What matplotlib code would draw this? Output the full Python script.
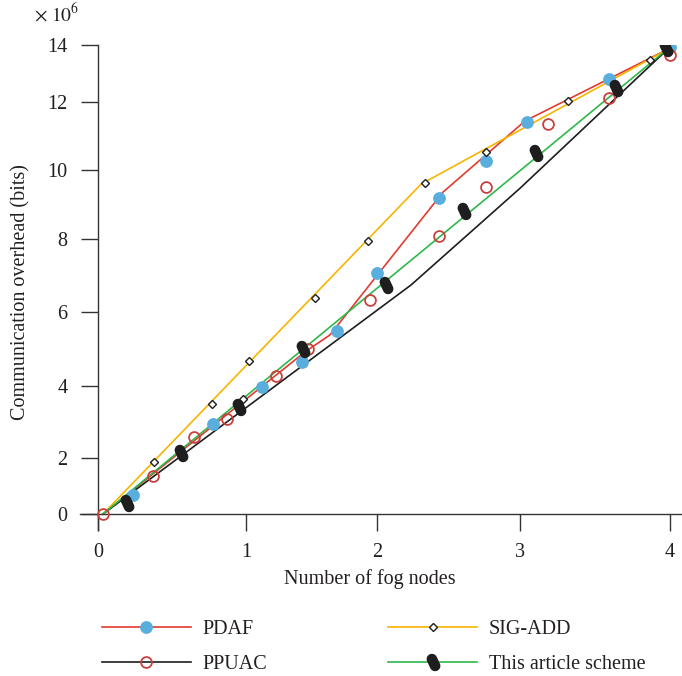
"""Communication overhead vs number of fog nodes, four schemes."""

import numpy as np
import matplotlib
matplotlib.use('Agg')
import matplotlib.pyplot as plt
from matplotlib.path import Path

plt.rcParams['font.family'] = 'Liberation Serif'
plt.rcParams['mathtext.fontset'] = 'stix'

TEXT = '#231f20'

########
# Data #
########
# Overhead in units of 1e6 bits. Lines and markers were placed separately in
# the original figure, so both are kept.
pdaf_line_x = [0.034, 0.993, 1.45, 1.641, 2.462, 3.033, 4.0]
pdaf_line_y = [0.0, 3.61, 4.92, 5.38, 9.36, 11.44, 13.89]
pdaf_x = [0.236, 0.777, 1.122, 1.427, 1.695, 2.0, 2.434, 2.762, 3.047, 3.593, 4.0]
pdaf_y = [0.68, 2.94, 3.97, 4.65, 5.49, 7.07, 9.19, 10.26, 11.41, 12.81, 13.93]

ppuac_line_x = [0.034, 2.238, 3.0, 4.0]
ppuac_line_y = [0.0, 6.74, 9.47, 13.93]
ppuac_x = [0.037, 0.372, 0.649, 0.872, 1.229, 1.473, 1.947, 2.434, 2.762, 3.187, 3.593, 4.0]
ppuac_y = [0.0, 1.36, 2.57, 3.08, 4.27, 4.99, 6.33, 8.09, 9.51, 11.35, 12.14, 13.65]

sig_line_x = [0.034, 2.308, 4.0]
sig_line_y = [0.0, 9.59, 13.89]
sig_x = [0.378, 0.770, 0.980, 1.023, 1.527, 1.931, 2.339, 2.762, 3.32, 3.867]
sig_y = [1.86, 3.50, 3.64, 4.68, 6.38, 7.95, 9.62, 10.53, 12.04, 13.47]

ours_line_x = [0.034, 1.0, 2.0, 3.0, 4.0]
ours_line_y = [0.0, 3.72, 6.65, 9.98, 13.93]
ours_x = [0.196, 0.564, 0.953, 1.435, 2.063, 2.608, 3.107, 3.64, 3.973]
ours_y = [0.39, 2.14, 3.42, 5.0, 6.74, 8.81, 10.5, 12.49, 13.89]

x_ticks = [0, 1, 2, 3, 4]
y_ticks = [0, 2, 4, 6, 8, 10, 12, 14]

#########
# Scale #
#########
# The source figure has unevenly spaced ticks; map them piecewise.
x_pos = [0, 148, 279, 422, 572]
y_pos = [0, 56, 128, 202, 275, 344, 412, 469]


def piecewise(ticks, pos):
    t = np.asarray(ticks, float)
    p = np.asarray(pos, float)
    s0 = (p[1] - p[0]) / (t[1] - t[0])
    s1 = (p[-1] - p[-2]) / (t[-1] - t[-2])
    t = np.r_[t[0] - 100, t, t[-1] + 100]
    p = np.r_[p[0] - 100 * s0, p, p[-1] + 100 * s1]
    return (lambda v: np.interp(v, t, p)), (lambda v: np.interp(v, p, t))


# Pill shaped marker for this article's scheme
ang = np.deg2rad(25)
tt = np.linspace(0, np.pi, 24)
top = np.column_stack([0.5 * np.cos(tt), 0.35 + 0.5 * np.sin(tt)])
bot = np.column_stack([-0.5 * np.cos(tt), -0.35 - 0.5 * np.sin(tt)])
verts = np.vstack([top, bot, top[:1]])
rot = np.array([[np.cos(ang), -np.sin(ang)], [np.sin(ang), np.cos(ang)]])
verts = verts @ rot.T
codes = [Path.MOVETO] + [Path.LINETO] * (len(verts) - 2) + [Path.CLOSEPOLY]
pill = Path(verts, codes)

########
# Plot #
########
fig = plt.figure(figsize=(6.82, 6.76), dpi=100)
ax = fig.add_axes([80 / 682, 146 / 676, 602 / 682, 485 / 676])
ax.set_xscale('function', functions=piecewise(x_ticks, x_pos))
ax.set_yscale('function', functions=piecewise(y_ticks, y_pos))

red, blue, black = '#e23a2f', '#5aaedd', '#1e1e1e'
hollow_red, yellow, green = '#c9403f', '#f7b400', '#2db84a'

l1, = ax.plot(pdaf_line_x, pdaf_line_y, color=red, lw=1.2, zorder=2)
m1, = ax.plot(pdaf_x, pdaf_y, ls='none', marker='o', ms=9.2, color=blue, mec='none', zorder=3)
l2, = ax.plot(ppuac_line_x, ppuac_line_y, color=black, lw=1.2, zorder=2)
m2, = ax.plot(ppuac_x, ppuac_y, ls='none', marker='o', ms=7.8, mfc='none', mec=hollow_red, mew=1.3, zorder=3)
l3, = ax.plot(sig_line_x, sig_line_y, color=yellow, lw=1.2, zorder=2)
m3, = ax.plot(sig_x, sig_y, ls='none', marker='D', ms=3.8, mfc='white', mec=black, mew=1.0, zorder=3)
l4, = ax.plot(ours_line_x, ours_line_y, color=green, lw=1.2, zorder=2)
m4, = ax.plot(ours_x, ours_y, ls='none', marker=pill, ms=12.5, color=black, mec='none', zorder=3)

ax.set_xlim(-0.1216, 4.08)
ax.set_ylim(-0.571, 14)
ax.set_xticks(x_ticks)
ax.set_yticks(y_ticks)

for side in ['top', 'right']:
    ax.spines[side].set_visible(False)
ax.spines['left'].set_position(('data', 0))
ax.spines['bottom'].set_position(('data', 0))
for side in ['left', 'bottom']:
    ax.spines[side].set_color('#333333')
    ax.spines[side].set_linewidth(1.0)

ax.tick_params(direction='out', length=12, width=1.0, color='#333333',
               labelsize=14.5, labelcolor=TEXT)
ax.tick_params(axis='x', pad=9)
ax.tick_params(axis='y', pad=10)

fig.text(370 / 682, 1 - 579 / 676, 'Number of fog nodes', fontsize=14.5,
         color=TEXT, ha='center', va='center')
fig.text(21 / 682, 1 - 292 / 676, 'Communication overhead (bits)', fontsize=14.5,
         color=TEXT, ha='center', va='center', rotation=90)
fig.text(34 / 682, 1 - 14 / 676, r'$\times\ 10^{6}$', fontsize=14,
         color=TEXT, ha='left', va='center')

handles = [(l1, m1), (l2, m2), (l3, m3), (l4, m4)]
labels = ['PDAF', 'PPUAC', 'SIG-ADD', 'This article scheme']
fig.legend(handles, labels, ncol=2, loc='upper left',
           bbox_to_anchor=(84 / 682, 1 - 602 / 676), frameon=False,
           fontsize=14.5, handlelength=4.4, handletextpad=0.6,
           columnspacing=6.0, labelspacing=0.8, numpoints=1,
           labelcolor=TEXT)

fig.savefig('out.png', dpi=100)
